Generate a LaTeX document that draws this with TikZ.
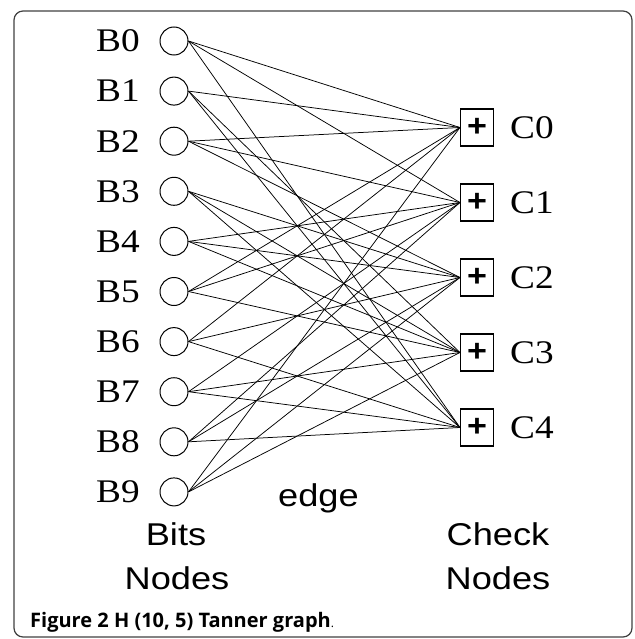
\documentclass[tikz,border=0pt]{standalone}
\usepackage{fontspec}
\setmainfont{Liberation Serif}
\newfontfamily\arialf{Liberation Sans}
\newfontfamily\capf{Open Sans}
\begin{document}
\begin{tikzpicture}[x=1pt,y=-1pt,
  bit/.style={circle,draw,line width=1pt,minimum size=28pt,inner sep=0pt},
  chk/.style={rectangle,draw,line width=1.1pt,minimum width=33pt,minimum height=37pt,inner sep=0pt},
  blab/.style={anchor=west,inner sep=0pt,font=\fontsize{33}{36}\selectfont},
  tline/.style={line width=0.75pt},
  stxt/.style={anchor=base,inner sep=0pt,font=\arialf\fontsize{31.5}{36}\selectfont}]
\useasboundingbox (0,0) rectangle (634,639);
\draw[rounded corners=9pt, line width=1.2pt, black!75] (14,11) rectangle (632,637);
\foreach \i in {0,...,9} {
  \node[bit] (B\i) at (174, {41+50.1*\i}) {};
  \node[blab] (LB\i) at (96, {41+50.1*\i}) {\scalebox{1.13}[1]{B\i}};
}
\foreach \j in {0,...,4} {
  \node[chk] (C\j) at (477, {127.5+75*\j}) {\arialf\bfseries\fontsize{31}{31}\selectfont\raisebox{1pt}{\scalebox{1.1}[1]{+}}};
  \node[blab] (LC\j) at (510, {127.5+75*\j}) {\scalebox{1.13}[1]{C\j}};
}
\foreach \b/\c in {0/0,0/1,0/4,1/0,1/3,1/4,2/0,2/1,2/2,3/2,3/3,3/4,4/1,4/2,4/3,5/0,5/1,5/3,6/0,6/2,6/4,7/1,7/3,7/4,8/1,8/2,8/4,9/0,9/2,9/3}
  \draw[tline] (B\b.east) -- (C\c.west);
\node[stxt] (edgel) at (318.5,506) {\scalebox{1.15}[1]{edge}};
\node[stxt] (bits) at (176,545) {\scalebox{1.15}[1]{Bits}};
\node[stxt] (bnodes) at (177,589) {\scalebox{1.15}[1]{Nodes}};
\node[stxt] (check) at (498,545) {\scalebox{1.15}[1]{Check}};
\node[stxt] (cnodes) at (498,589) {\scalebox{1.15}[1]{Nodes}};
\node[anchor=base west, inner sep=0pt, font=\capf\fontsize{20}{22}\selectfont] (cap) at (30,627) {\textbf{Figure 2 H (10, 5) Tanner graph}{\fontsize{12}{13}\selectfont.}};
\end{tikzpicture}
\end{document}
